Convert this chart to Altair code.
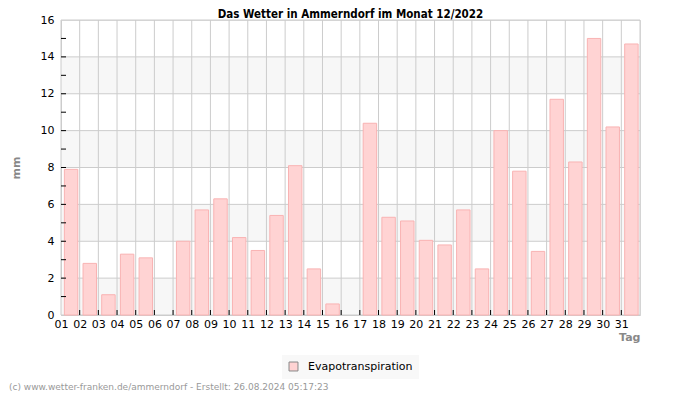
import altair as alt
import pandas as pd

# ---- data ----
days = list(range(1, 32))
evapo = [7.9, 2.8, 1.1, 3.3, 3.1, 0.0, 4.0, 5.7, 6.3, 4.2, 3.5, 5.4, 8.1, 2.5, 0.6, 0.0,
         10.4, 5.3, 5.1, 4.05, 3.8, 5.7, 2.5, 10.0, 7.8, 3.45, 11.7, 8.3, 15.0, 10.2, 14.7]
series_name = "Evapotranspiration"
y_major = [0, 2, 4, 6, 8, 10, 12, 14, 16]
y_minor = list(range(1, 16))
band_starts = [0, 4, 8, 12]
grid_days = list(range(1, 33))

title_text = "Das Wetter in Ammerndorf im Monat 12/2022"
footer_text = "(c) www.wetter-franken.de/ammerndorf - Erstellt: 26.08.2024 05:17:23"

W, H = 579, 295
FONT = "DejaVu Sans"
FONT_C = "DejaVu Sans Condensed"

bars_df = pd.DataFrame({"day": days, "value": evapo, "series": series_name})
bands_df = pd.DataFrame({"y0": band_starts})
vgrid_df = pd.DataFrame({"day": grid_days})
hgrid_df = pd.DataFrame({"y": y_major})
yminor_df = pd.DataFrame({"y": y_minor})
xticks_df = pd.DataFrame({"day": days[1:]})

xscale = alt.Scale(domain=[1, 32], nice=False, zero=False)
yscale = alt.Scale(domain=[0, 16], nice=False)

x_axis = alt.Axis(
    values=days, labelExpr="datum.value < 10 ? '0' + datum.value : '' + datum.value",
    grid=False, tickSize=0, domainColor="#cccccc", labelFont=FONT, labelFontSize=11,
    labelColor="#000000", labelPadding=3, labelAngle=0, labelFlush=False,
    labelOverlap=False, labelBound=False,
    title="Tag", titleFont=FONT, titleFontSize=11, titleFontWeight="bold",
    titleColor="#888888", titleAlign="right", titleX=W, titleY=16,
    titleBaseline="top",
)
y_axis = alt.Axis(
    values=y_major, grid=False, tickSize=0, domainColor="#cccccc", labelFont=FONT,
    labelFontSize=11, labelColor="#000000", labelPadding=7, labelOverlap=False,
    labelFlush=False, labelBound=False,
    title="mm", titleFont=FONT, titleFontSize=11, titleFontWeight="bold",
    titleColor="#888888", titleX=-45, titleY=H / 2, titleAngle=270,
    titleBaseline="middle",
)

X = lambda f: alt.X(f, scale=xscale, axis=x_axis)
Y = lambda f: alt.Y(f, scale=yscale, axis=y_axis)

bands = alt.Chart(bands_df).transform_calculate(y1="datum.y0 + 2").mark_rect(
    color="#f7f7f7"
).encode(
    x=alt.value(0), x2=alt.value(W),
    y=Y("y0:Q"), y2="y1:Q",
)

vgrid = alt.Chart(vgrid_df).mark_rule(color="#cccccc", strokeWidth=1).encode(
    x=X("day:Q"), y=alt.value(0), y2=alt.value(H),
)

hgrid = alt.Chart(hgrid_df).mark_rule(color="#cccccc", strokeWidth=1).encode(
    y=Y("y:Q"), x=alt.value(0), x2=alt.value(W),
)

bars = alt.Chart(bars_df).transform_filter("datum.value > 0").transform_calculate(
    x0="datum.day + 0.18", x1="datum.day + 0.9"
).mark_bar(stroke="#f9b3b3", strokeWidth=1, opacity=1).encode(
    x=X("x0:Q"), x2="x1:Q",
    y=Y("value:Q"), y2=alt.datum(0),
    color=alt.Color(
        "series:N",
        scale=alt.Scale(domain=[series_name], range=["#ffd3d3"]),
        legend=alt.Legend(
            title=None, orient="none", legendX=221, legendY=335, direction="horizontal",
            fillColor="#f8f8f8", padding=6, symbolType="square", symbolSize=80,
            symbolStrokeColor="#888888", symbolStrokeWidth=1, symbolOpacity=1,
            labelFont=FONT, labelFontSize=11, labelColor="#000000", labelOffset=9,
        ),
    ),
)

xticks = alt.Chart(xticks_df).mark_rule(color="#000000", strokeWidth=1).encode(
    x=X("day:Q"), y=alt.value(H - 5), y2=alt.value(H),
)
yticks = alt.Chart(yminor_df).mark_rule(color="#000000", strokeWidth=1).encode(
    y=Y("y:Q"), x=alt.value(0), x2=alt.value(5),
)

title = alt.Chart(pd.DataFrame({"t": [title_text]})).mark_text(
    align="center", baseline="alphabetic", font=FONT_C, fontSize=11.5,
    fontWeight="bold", color="#000000"
).encode(text="t:N", x=alt.value(W / 2), y=alt.value(-2))

footer = alt.Chart(pd.DataFrame({"t": [footer_text]})).mark_text(
    align="left", baseline="alphabetic", font=FONT, fontSize=9, color="#999999"
).encode(text="t:N", x=alt.value(-52), y=alt.value(370))

chart = alt.layer(bands, vgrid, hgrid, bars, xticks, yticks, title, footer).properties(
    width=W, height=H,
    autosize=alt.AutoSizeParams(type="none"),
    padding={"left": 53, "top": 12, "right": 52, "bottom": 76},
).configure_view(stroke=None).configure(background="#ffffff").configure_axis(
    labelOverlap=False, labelFlush=False
)

chart.save("out.html", embed_options={"renderer": "svg", "actions": False})
